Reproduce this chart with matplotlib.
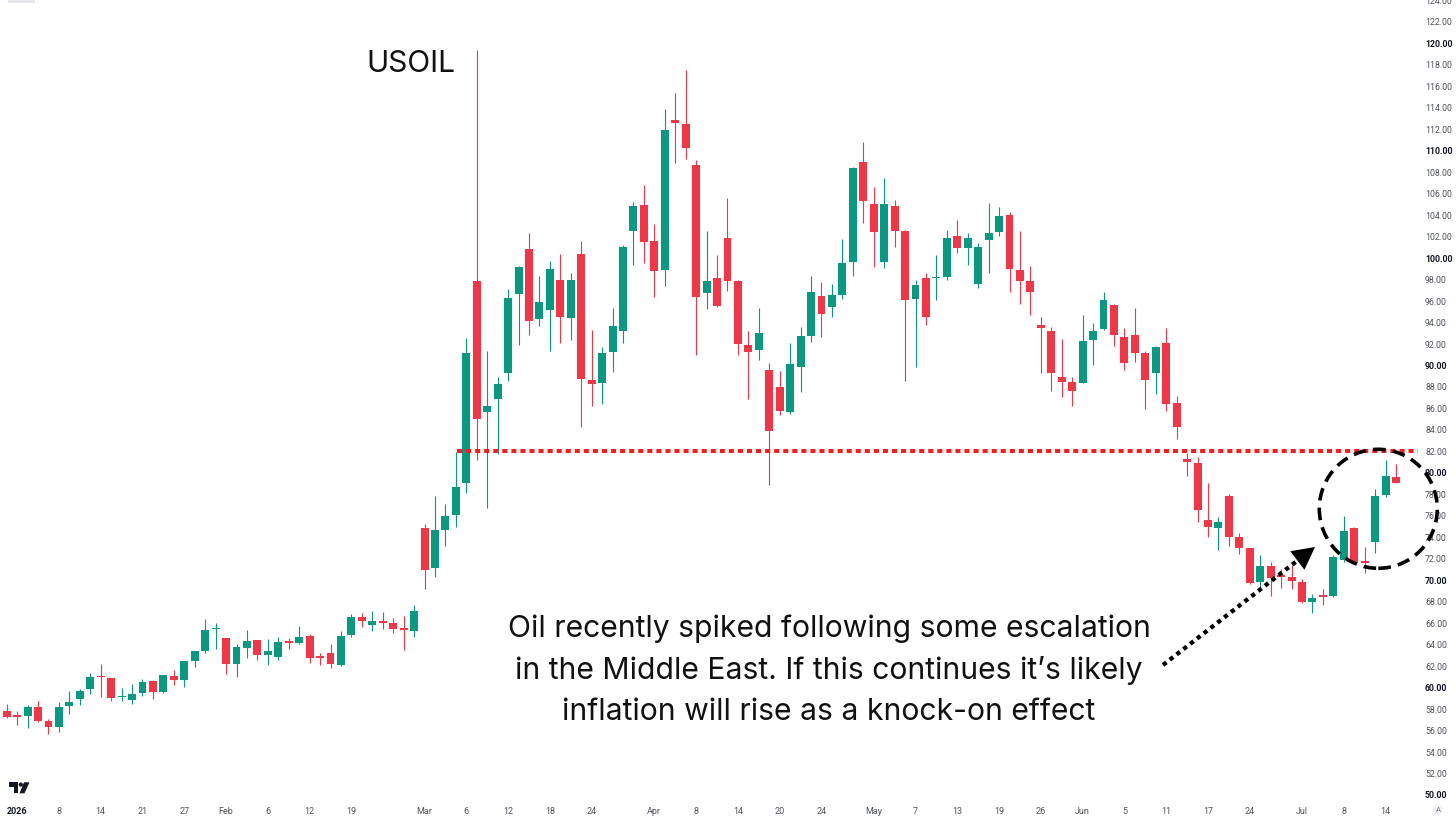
import numpy as np
import pandas as pd
import matplotlib
matplotlib.use('Agg')
import matplotlib.pyplot as plt
from matplotlib.patches import Ellipse, Polygon, Rectangle
from matplotlib.transforms import blended_transform_factory

# trading calendar (US sessions, holidays skipped)
holidays = ['2026-01-01', '2026-01-19', '2026-02-16', '2026-04-03',
            '2026-05-25', '2026-06-19', '2026-07-03']
dates = pd.DatetimeIndex(['2025-12-31']).append(
    pd.bdate_range('2026-01-02', '2026-07-15', freq='C', holidays=holidays))

# daily OHLC
opens = [
    57.91, 57.45, 57.47, 58.31, 56.95, 56.45, 58.38, 58.99, 59.96, 61.11,
    60.95, 59.22, 58.94, 59.56, 60.67, 59.65, 61.17, 60.80, 62.60, 63.47,
    65.52, 64.68, 62.29, 63.81, 64.49, 63.10, 62.97, 64.43, 64.21, 64.87,
    63.00, 63.28, 62.17, 64.96, 66.70, 65.89, 66.33, 66.08, 65.61, 65.36,
    74.99, 71.26, 74.77, 76.17, 79.12, 97.99, 85.79, 86.94, 89.36, 96.75,
    100.91, 94.39, 95.26, 98.05, 94.48, 100.47, 88.74, 88.49, 91.38, 93.33,
    102.59, 105.04, 101.72, 98.99, 112.96, 112.59, 108.73, 96.81, 98.21, 101.99,
    97.99, 92.00, 91.50, 89.67, 88.12, 85.79, 89.98, 92.87, 96.60, 95.57,
    96.66, 99.70, 109.08, 105.13, 99.73, 104.95, 102.65, 96.32, 98.21, 98.24,
    98.36, 102.15, 101.00, 97.68, 101.78, 102.56, 104.11, 98.99, 98.00, 93.87,
    93.34, 89.05, 88.53, 88.49, 92.47, 93.46, 95.73, 92.78, 92.93, 91.29,
    89.43, 92.22, 86.63, 81.38, 81.04, 75.70, 74.93, 77.97, 74.09, 73.06,
    69.96, 71.42, 70.58, 70.43, 69.96, 68.10, 68.66, 68.62, 71.98, 74.93,
    71.88, 73.69, 78.03, 79.74,
]
highs = [
    58.53, 57.91, 58.44, 58.87, 57.13, 58.72, 59.74, 59.96, 61.45, 62.32,
    61.00, 60.02, 60.46, 60.86, 60.80, 61.30, 61.73, 62.60, 63.53, 66.45,
    66.14, 64.75, 64.15, 65.49, 64.55, 64.59, 64.84, 64.74, 65.83, 65.08,
    63.28, 64.15, 65.39, 66.95, 67.01, 67.26, 67.10, 66.57, 66.76, 67.82,
    75.30, 77.97, 77.19, 82.06, 92.62, 119.48, 91.47, 88.99, 97.18, 99.40,
    102.46, 98.43, 99.79, 100.47, 98.74, 101.69, 93.40, 91.78, 95.48, 101.30,
    105.35, 106.90, 103.27, 113.95, 115.50, 117.61, 109.23, 102.65, 100.38, 105.66,
    98.05, 93.34, 95.42, 90.29, 89.61, 92.22, 93.71, 98.43, 97.84, 97.68,
    101.84, 108.60, 110.94, 106.69, 107.52, 105.51, 102.70, 98.05, 98.67, 100.38,
    102.71, 103.64, 102.40, 101.53, 105.20, 104.88, 104.42, 102.65, 99.39, 94.64,
    93.71, 92.53, 88.99, 94.80, 94.02, 96.97, 95.82, 93.62, 95.48, 91.47,
    91.90, 93.62, 87.25, 81.91, 81.54, 79.18, 76.01, 78.12, 74.46, 73.10,
    72.44, 71.82, 71.11, 71.51, 70.18, 68.81, 69.25, 72.44, 76.08, 75.02,
    73.22, 78.56, 81.29, 80.92,
]
lows = [
    57.23, 56.61, 56.36, 56.89, 55.74, 55.99, 57.63, 58.44, 59.49, 59.18,
    58.87, 58.87, 58.56, 59.31, 58.99, 59.56, 60.30, 60.11, 62.04, 63.35,
    63.66, 61.36, 61.11, 62.85, 62.66, 62.17, 62.66, 63.66, 64.15, 62.41,
    62.17, 61.92, 62.10, 64.84, 65.77, 65.39, 65.58, 65.15, 63.60, 64.84,
    69.24, 70.42, 73.31, 75.02, 78.25, 81.29, 76.79, 81.85, 88.65, 92.00,
    92.93, 93.80, 91.47, 92.15, 92.46, 84.39, 86.35, 86.47, 89.52, 92.15,
    99.45, 99.61, 96.50, 97.53, 108.92, 109.29, 91.07, 95.32, 95.57, 97.06,
    91.07, 86.94, 90.57, 78.96, 85.48, 85.58, 87.66, 92.31, 92.72, 94.64,
    96.26, 98.43, 103.33, 99.30, 99.14, 101.10, 88.68, 89.92, 93.86, 96.19,
    98.05, 100.53, 99.45, 97.28, 98.67, 102.15, 96.97, 95.82, 94.80, 89.43,
    87.75, 87.13, 86.32, 88.49, 90.14, 93.40, 91.94, 89.67, 90.45, 86.01,
    87.44, 85.89, 83.22, 79.80, 75.55, 74.15, 72.91, 73.28, 72.54, 69.74,
    69.34, 68.62, 69.34, 69.25, 68.00, 67.07, 67.79, 68.56, 71.82, 71.67,
    70.80, 72.60, 77.81, 79.12,
]
closes = [
    57.38, 57.38, 58.31, 56.95, 56.39, 58.31, 58.75, 59.80, 61.05, 61.05,
    59.15, 59.28, 59.50, 60.61, 59.65, 61.27, 60.83, 62.54, 63.47, 65.46,
    65.67, 62.32, 63.84, 64.43, 63.10, 63.47, 64.37, 64.21, 64.84, 62.88,
    62.82, 62.29, 64.90, 66.64, 66.29, 66.26, 66.08, 65.55, 65.43, 67.26,
    71.04, 74.77, 76.07, 78.80, 91.22, 85.08, 86.35, 88.37, 96.35, 99.30,
    94.27, 96.00, 99.05, 94.58, 98.05, 88.83, 88.37, 91.28, 93.77, 101.16,
    104.98, 101.59, 98.93, 112.03, 112.65, 110.32, 96.50, 97.96, 95.63, 97.99,
    92.06, 91.38, 93.15, 83.99, 85.89, 90.20, 92.84, 96.97, 94.86, 96.66,
    99.61, 108.52, 105.41, 102.49, 105.13, 102.65, 96.19, 97.59, 94.64, 98.33,
    102.00, 101.00, 102.00, 101.10, 102.46, 104.02, 99.08, 98.00, 96.97, 93.62,
    89.43, 88.53, 87.75, 92.41, 93.34, 96.19, 92.93, 90.29, 91.29, 88.74,
    91.85, 86.51, 84.33, 81.13, 76.63, 75.02, 75.49, 74.09, 73.06, 69.87,
    71.45, 70.27, 70.43, 70.05, 68.10, 68.41, 68.56, 72.23, 74.71, 71.73,
    71.67, 77.94, 79.80, 79.18,
]

resistance = 82.15
title = 'USOIL'
note_lines = [
    'Oil recently spiked following some escalation',
    'in the Middle East. If this continues it\u2019s likely',
    'inflation will rise as a knock-on effect',
]

tick_days = ['2026-01-02', '2026-01-08', '2026-01-14', '2026-01-21', '2026-01-27',
             '2026-02-02', '2026-02-06', '2026-02-12', '2026-02-19', '2026-03-02',
             '2026-03-06', '2026-03-12', '2026-03-18', '2026-03-24', '2026-04-01',
             '2026-04-08', '2026-04-14', '2026-04-20', '2026-04-24', '2026-05-01',
             '2026-05-07', '2026-05-13', '2026-05-19', '2026-05-26', '2026-06-01',
             '2026-06-05', '2026-06-11', '2026-06-17', '2026-06-24', '2026-07-01',
             '2026-07-08', '2026-07-14']
tick_labels = ['2026', '8', '14', '21', '27', 'Feb', '6', '12', '19', 'Mar',
               '6', '12', '18', '24', 'Apr', '8', '14', '20', '24', 'May',
               '7', '13', '19', '26', 'Jun', '5', '11', '17', '24', 'Jul',
               '8', '14']
price_ticks = np.arange(50, 126, 2)

UP = '#089981'
DOWN = '#f23645'

# pixel geometry of the reference
W, H = 1456, 818
STEP = 10.446      # px per candle
X_OFF = 6.7        # px of first candle
PPU = 10.737       # px per price unit
Y106 = 194.7       # px row of price 106


def px(x):
    return (x - X_OFF) / STEP


def py(y):
    return 106 - (y - Y106) / PPU


fig = plt.figure(figsize=(W / 100, H / 100), dpi=100)
ax = fig.add_axes([0, 0, 1, 1])
ax.set_xlim(px(0), px(W))
ax.set_ylim(py(H), py(0))
ax.axis('off')

o = np.array(opens)
h = np.array(highs)
l = np.array(lows)
c = np.array(closes)
x = np.arange(len(dates))
cols = np.where(c >= o, UP, DOWN)

ax.vlines(x, l, h, colors=cols, linewidth=0.8, zorder=2)
body = np.maximum(np.abs(c - o), 0.12)
ax.bar(x, body, bottom=np.minimum(o, c), width=0.76, color=cols,
       linewidth=0, zorder=3)

# resistance line
ax.plot([px(457), px(1418)], [resistance, resistance], color='#ff1a1a',
        lw=2.9, linestyle=(0, (1.25, 1.0)), dash_capstyle='butt', zorder=4)

# circle around last candles
ax.add_patch(Ellipse((px(1378.3), py(508.8)), 2 * 59 / STEP, 2 * 59.5 / PPU,
                     fill=False, edgecolor='black', lw=2.6,
                     linestyle=(0, (3.5, 2.0)), zorder=5))

# dotted arrow
ax.plot([px(1163), px(1302)], [py(665), py(557)], color='black', lw=3.1,
        linestyle=(0, (1, 1)), dash_capstyle='butt', zorder=5)
ax.annotate('', xy=(px(1315), py(547)), xytext=(px(1298), py(560)),
            arrowprops=dict(arrowstyle='-|>,head_length=0.8,head_width=0.42',
                            mutation_scale=20, color='black', lw=0,
                            shrinkA=0, shrinkB=0), zorder=6)

ax.text(px(410.5), py(64), title, ha='center', va='center', fontsize=21.5,
        family='Inter', color='#111111')
for i, line in enumerate(note_lines):
    ax.text(px(829), py(629 + 41.5 * i), line, ha='center', va='center',
            fontsize=21.7, family='Inter', color='#111111')

# price scale
tr = blended_transform_factory(ax.transAxes, ax.transData)
for p in price_ticks:
    bold = p % 10 == 0
    ax.text(1425 / W, p, '%.2f' % p, transform=tr, ha='left', va='center',
            fontsize=6.3, family='Roboto',
            fontweight='bold' if bold else 'normal',
            color='#131722' if bold else '#50535e')

# time scale
pos = {d: i for i, d in enumerate(dates.strftime('%Y-%m-%d'))}
for d, lab in zip(tick_days, tick_labels):
    ax.text(pos[d], py(811), lab, ha='center', va='center', fontsize=6.5,
            family='Roboto', fontweight='bold' if lab == '2026' else 'normal',
            color='#131722' if lab == '2026' else '#50535e')
ax.text(px(1438), py(810), 'A', ha='center', va='center', fontsize=5.5,
        family='Roboto', color='#787b86',
        bbox=dict(boxstyle='circle,pad=0.25', fc='#f0f3fa', ec='none'))

# small TradingView mark
ax.add_patch(Polygon([(px(9.3), py(782.3)), (px(18.3), py(782.3)),
                      (px(18.3), py(793.3)), (px(14), py(793.3)),
                      (px(14), py(786.7)), (px(9.3), py(786.7))],
                     closed=True, color='#131722', lw=0))
ax.add_patch(Ellipse((px(20.8), py(784.6)), 4.2 / STEP, 4.2 / PPU,
                     color='#131722', lw=0))
ax.add_patch(Polygon([(px(24), py(782.3)), (px(29.5), py(782.3)),
                      (px(24.5), py(793.3)), (px(19.5), py(793.3))],
                     closed=True, color='#131722', lw=0))
ax.add_patch(Rectangle((px(8), py(3)), 27 / STEP, 3 / PPU, color='#e6e8ee', lw=0))

fig.savefig('out.png', dpi=100)
